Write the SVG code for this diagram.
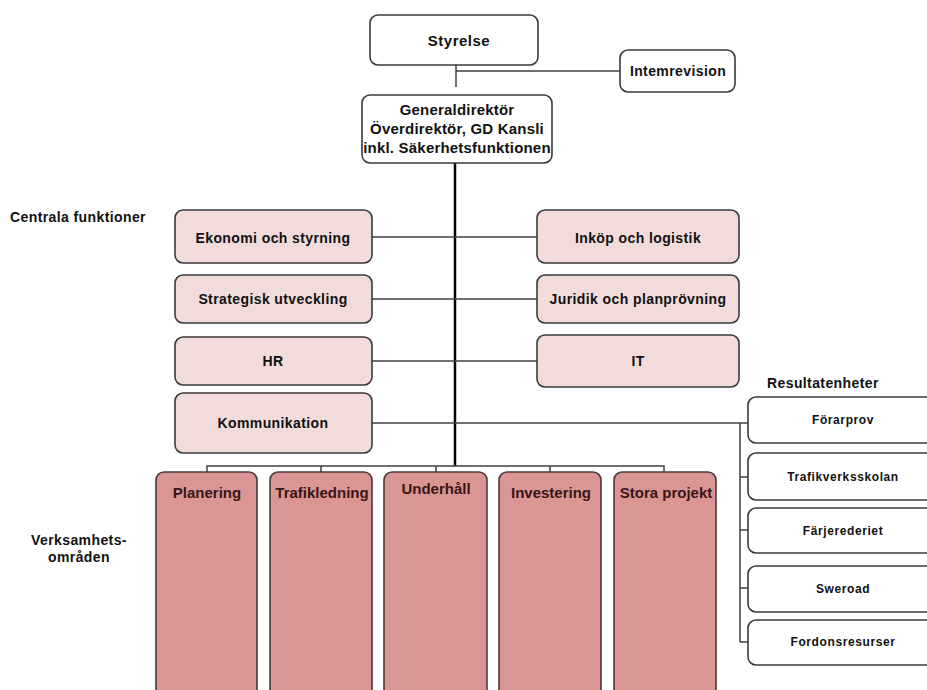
<svg xmlns="http://www.w3.org/2000/svg" width="927" height="690" viewBox="0 0 927 690">
<style>
text{font-family:"Liberation Sans",Arial,sans-serif;font-weight:bold;font-size:14px;letter-spacing:0.4px;text-anchor:middle;fill:#111}
.lbl{text-anchor:start}
.top{font-size:15px;letter-spacing:0.5px}
.gd{font-size:15px;letter-spacing:0.2px}
.w{fill:#fff;stroke:#3a3a3a;stroke-width:1.6}
.p{fill:#f2dcdb;stroke:#3a3a3a;stroke-width:1.6}
.r{fill:#d99694;stroke:#4a3a3a;stroke-width:1.6}
.rl{fill:#3a1515;font-size:15px;letter-spacing:0}
.c{stroke:#404040;stroke-width:1.5;fill:none}
.t{stroke:#000;stroke-width:2.5;fill:none}
.rt{font-size:12px;letter-spacing:0.6px}
</style>
<rect width="927" height="690" fill="#fff"/>
<g id="connectors">
<path class="c" d="M456 65V87M456 71H620"/>
<path class="t" d="M455 163V466"/>
<path class="c" d="M372 237H537M372 299H537M372 361H537M372 423H740"/>
<path class="c" d="M740 423V642M740 423H748M740 477H748M740 530H748M740 588H748M740 642H748"/>
<path class="c" d="M207 472V466H664V472M321 466V472M436 466V472M550 466V472"/>
</g>
<text class="lbl" x="10" y="222">Centrala funktioner</text>
<text x="79" y="545">Verksamhets-</text>
<text x="79" y="562">områden</text>
<text class="lbl" x="767" y="388">Resultatenheter</text>
<g id="styrelse"><rect class="w" x="370" y="15" width="168" height="50" rx="8"/><text class="top" x="459" y="46">Styrelse</text></g>
<g id="internrevision"><rect class="w" x="620" y="50" width="115" height="42" rx="8"/><text x="678" y="76">Intemrevision</text></g>
<g id="gd"><rect class="w" x="362" y="95" width="190" height="68" rx="8"/><text class="gd" x="457" y="115">Generaldirektör</text><text class="gd" x="457" y="134">Överdirektör, GD Kansli</text><text class="gd" x="457" y="153">inkl. Säkerhetsfunktionen</text></g>
<g id="ekonomi"><rect class="p" x="175" y="210" width="197" height="53" rx="8"/><text x="273" y="243">Ekonomi och styrning</text></g>
<g id="strategisk"><rect class="p" x="175" y="275" width="197" height="48" rx="8"/><text x="273" y="304">Strategisk utveckling</text></g>
<g id="hr"><rect class="p" x="175" y="337" width="197" height="48" rx="8"/><text x="273" y="366">HR</text></g>
<g id="kommunikation"><rect class="p" x="175" y="393" width="197" height="60" rx="8"/><text x="273" y="428">Kommunikation</text></g>
<g id="inkop"><rect class="p" x="537" y="210" width="202" height="53" rx="8"/><text x="638" y="243">Inköp och logistik</text></g>
<g id="juridik"><rect class="p" x="537" y="275" width="202" height="48" rx="8"/><text x="638" y="304">Juridik och planprövning</text></g>
<g id="it"><rect class="p" x="537" y="335" width="202" height="52" rx="8"/><text x="638" y="366">IT</text></g>
<g id="forarprov"><rect class="w" x="748" y="397" width="200" height="46" rx="8"/><text class="rt" x="843" y="424">Förarprov</text></g>
<g id="trafikverksskolan"><rect class="w" x="748" y="453" width="200" height="47" rx="8"/><text class="rt" x="843" y="481">Trafikverksskolan</text></g>
<g id="farjerederiet"><rect class="w" x="748" y="508" width="200" height="45" rx="8"/><text class="rt" x="843" y="535">Färjerederiet</text></g>
<g id="sweroad"><rect class="w" x="748" y="566" width="200" height="46" rx="8"/><text class="rt" x="843" y="593">Sweroad</text></g>
<g id="fordonsresurser"><rect class="w" x="748" y="620" width="200" height="45" rx="8"/><text class="rt" x="843" y="646">Fordonsresurser</text></g>
<g id="planering"><rect class="r" x="156" y="472" width="101" height="240" rx="8"/><text class="rl" x="207" y="498">Planering</text></g>
<g id="trafikledning"><rect class="r" x="270" y="472" width="102" height="240" rx="8"/><text class="rl" x="322" y="498">Trafikledning</text></g>
<g id="underhall"><rect class="r" x="384" y="472" width="103" height="240" rx="8"/><text class="rl" x="436" y="494">Underhåll</text></g>
<g id="investering"><rect class="r" x="499" y="472" width="102" height="240" rx="8"/><text class="rl" x="551" y="498">Investering</text></g>
<g id="stora"><rect class="r" x="614" y="472" width="102" height="240" rx="8"/><text class="rl" x="666" y="498">Stora projekt</text></g>
</svg>
